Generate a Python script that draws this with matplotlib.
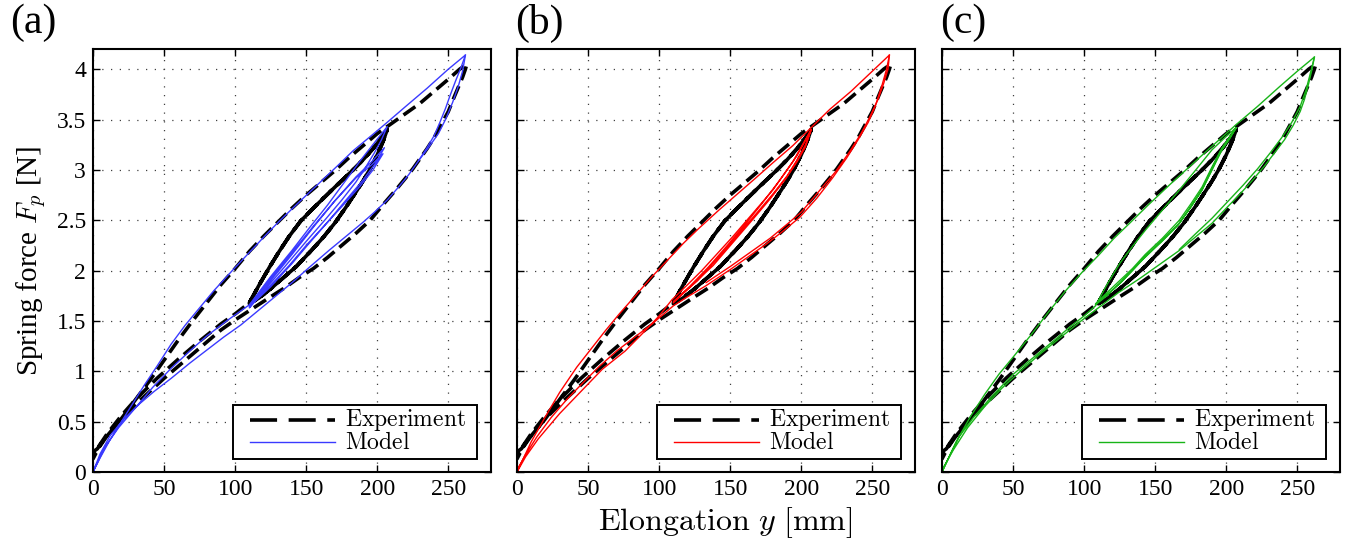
import numpy as np
import matplotlib
matplotlib.use("Agg")
import matplotlib.pyplot as plt
from matplotlib.lines import Line2D
from matplotlib.patches import Rectangle
from matplotlib.ticker import FormatStrFormatter

plt.rcParams['font.family'] = ['Liberation Serif', 'DejaVu Serif']
plt.rcParams['mathtext.fontset'] = 'cm'

# ---- experiment (same in all three panels) ----
exp_load_x = [0, 3, 10, 20, 30, 40, 50, 60, 70, 80, 90, 100, 110, 120, 130, 140, 150,
              160, 170, 180, 190, 200, 210, 220, 230, 240, 250, 258, 263]
exp_load_y = [0.2, 0.23, 0.36, 0.53, 0.72, 0.91, 1.11, 1.31, 1.5, 1.68, 1.86, 2.02, 2.19,
              2.34, 2.48, 2.62, 2.75, 2.87, 2.99, 3.12, 3.24, 3.36, 3.46, 3.56, 3.66, 3.78,
              3.9, 4.0, 4.05]

exp_unload_x = [263, 262, 260, 257, 254, 250, 245, 240, 235, 230, 225, 220, 213, 205, 195,
                185, 175, 165, 155, 145, 135, 125, 112, 100, 90, 80, 70, 60, 50, 40, 30,
                20, 10, 4, 0]
exp_unload_y = [4.05, 4.0, 3.92, 3.82, 3.72, 3.58, 3.45, 3.32, 3.21, 3.11, 3.01, 2.92, 2.8,
                2.67, 2.5, 2.37, 2.25, 2.13, 2.02, 1.93, 1.83, 1.74, 1.62, 1.51, 1.41, 1.29,
                1.17, 1.05, 0.93, 0.8, 0.67, 0.53, 0.36, 0.24, 0.13]

exp_reload_x = [0, 10, 20, 30, 45, 60, 75, 90, 100, 110]
exp_reload_y = [0.17, 0.38, 0.56, 0.72, 0.93, 1.12, 1.3, 1.47, 1.57, 1.68]

exp_rise_x = [110, 117, 124, 131, 138, 146, 155, 163, 171, 177, 183, 190, 197, 203, 207]
exp_rise_y = [1.68, 1.86, 2.03, 2.19, 2.34, 2.49, 2.62, 2.73, 2.84, 2.92, 3.0, 3.1, 3.21,
              3.32, 3.4]

exp_fall_x = [207, 204, 200, 195, 190, 185, 178, 170, 162, 153, 143, 134, 125, 117, 110]
exp_fall_y = [3.4, 3.28, 3.15, 3.01, 2.89, 2.78, 2.63, 2.47, 2.33, 2.19, 2.04, 1.93, 1.82,
              1.73, 1.67]

# ---- model (a), blue ----
a_load_x = [0, 5, 12, 20, 28, 36, 45, 55, 65, 75, 85, 98, 110, 120, 131, 145, 160, 172,
            183, 195, 206, 220, 235, 250, 262]
a_load_y = [0, 0.14, 0.32, 0.5, 0.68, 0.86, 1.05, 1.27, 1.46, 1.63, 1.8, 2.0, 2.18, 2.33,
            2.49, 2.68, 2.88, 3.04, 3.19, 3.33, 3.46, 3.63, 3.81, 4.0, 4.14]
a_unload_x = [262, 259, 255, 251, 248, 244, 240, 235, 229, 222, 215, 207, 198, 190, 178,
              166, 152, 140, 128, 116, 104, 92, 80, 68, 55, 43, 33, 22, 12, 5, 0]
a_unload_y = [4.14, 4.02, 3.88, 3.73, 3.61, 3.47, 3.34, 3.22, 3.09, 2.95, 2.83, 2.7, 2.58,
              2.48, 2.34, 2.2, 2.03, 1.88, 1.74, 1.6, 1.46, 1.34, 1.21, 1.08, 0.93, 0.8,
              0.68, 0.53, 0.36, 0.18, 0]
a_unload2_x = [262, 260, 257, 253, 248, 243, 236, 229]
a_unload2_y = [4.14, 3.98, 3.83, 3.67, 3.5, 3.36, 3.22, 3.09]
a_reload_x = [0, 8, 18, 30, 42, 55, 68, 80, 95, 110]
a_reload_y = [0, 0.24, 0.44, 0.64, 0.84, 1.03, 1.2, 1.35, 1.51, 1.66]
a_loops_x = [110, 125, 140, 152, 165, 177, 188, 198, 207,
             203, 198, 192, 185, 175, 163, 150, 135, 122, 110,
             125, 140, 155, 170, 185, 196, 205,
             199, 190, 178, 165, 152, 140, 125, 110,
             125, 140, 155, 170, 185, 196, 204,
             197, 188, 176, 163, 150, 138, 124, 110]
a_loops_y = [1.66, 1.94, 2.2, 2.42, 2.65, 2.88, 3.09, 3.27, 3.43,
             3.3, 3.17, 3.03, 2.88, 2.7, 2.5, 2.29, 2.04, 1.83, 1.63,
             1.9, 2.16, 2.43, 2.69, 2.93, 3.08, 3.22,
             3.07, 2.9, 2.7, 2.48, 2.27, 2.07, 1.84, 1.64,
             1.92, 2.18, 2.44, 2.69, 2.92, 3.05, 3.16,
             3.0, 2.84, 2.65, 2.45, 2.25, 2.05, 1.84, 1.65]

# ---- model (b), red ----
b_load_x = [0, 5, 10, 20, 30, 42, 52, 62, 72, 82, 95, 105, 117, 128, 142, 155, 168, 180,
            194, 207, 220, 235, 250, 262]
b_load_y = [0, 0.15, 0.3, 0.55, 0.79, 1.04, 1.22, 1.4, 1.57, 1.73, 1.94, 2.09, 2.27, 2.42,
            2.6, 2.76, 2.92, 3.07, 3.24, 3.42, 3.6, 3.78, 3.98, 4.14]
b_unload_x = [262, 260, 257, 252, 247, 240, 232, 222, 211, 199, 187, 176, 166, 150, 133,
              120, 110, 95, 82, 70, 58, 46, 35, 24, 14, 6, 0]
b_unload_y = [4.14, 4.0, 3.85, 3.63, 3.47, 3.3, 3.12, 2.92, 2.72, 2.53, 2.39, 2.27, 2.17,
              2.01, 1.85, 1.74, 1.65, 1.47, 1.33, 1.2, 1.05, 0.88, 0.72, 0.54, 0.35, 0.17,
              0.02]
b_unload2_x = [262, 261, 258, 254, 248, 242, 234, 224, 212, 200, 190, 178, 166, 150, 133]
b_unload2_y = [4.14, 4.0, 3.86, 3.7, 3.52, 3.36, 3.18, 2.98, 2.78, 2.58, 2.46, 2.32, 2.2,
               2.04, 1.88]
b_reload_x = [0, 6, 15, 30, 45, 60, 76, 90, 100, 109]
b_reload_y = [0, 0.15, 0.33, 0.58, 0.8, 1.02, 1.2, 1.4, 1.55, 1.71]
b_loops_x = [109, 120, 130, 141, 152, 166, 180, 194, 207,
             205, 203, 197, 189, 178, 166, 152, 138, 125, 114, 110,
             122, 135, 148, 160, 172, 185, 197, 207,
             203, 198, 190, 180, 168, 155, 141, 127, 116, 110]
b_loops_y = [1.71, 1.86, 2.0, 2.17, 2.34, 2.57, 2.8, 3.08, 3.4,
             3.32, 3.23, 3.08, 2.91, 2.71, 2.51, 2.28, 2.05, 1.88, 1.74, 1.69,
             1.85, 2.04, 2.25, 2.45, 2.66, 2.9, 3.14, 3.4,
             3.25, 3.12, 2.94, 2.76, 2.56, 2.35, 2.12, 1.9, 1.76, 1.68]

# ---- model (c), green ----
c_load_x = [0, 5, 10, 20, 30, 40, 50, 62, 75, 87, 99, 110, 121, 132, 145, 160, 174, 188,
            207, 222, 237, 250, 262]
c_load_y = [0, 0.15, 0.3, 0.55, 0.77, 0.97, 1.14, 1.35, 1.59, 1.8, 1.99, 2.15, 2.32, 2.47,
            2.65, 2.85, 3.03, 3.21, 3.45, 3.63, 3.82, 3.98, 4.12]
c_unload_x = [262, 260, 258, 255, 252, 247, 241, 234, 227, 218, 209, 200, 190, 178, 167,
              153, 139, 124, 110, 96, 82, 68, 55, 42, 30, 18, 8, 0]
c_unload_y = [4.12, 3.98, 3.86, 3.7, 3.58, 3.44, 3.3, 3.17, 3.04, 2.89, 2.75, 2.62, 2.47,
              2.33, 2.2, 2.06, 1.92, 1.78, 1.63, 1.48, 1.32, 1.16, 1.0, 0.83, 0.65, 0.44,
              0.22, 0.02]
c_unload2_x = [262, 259, 256, 252, 246, 239, 231, 222, 212, 200, 190, 178, 167]
c_unload2_y = [4.12, 3.95, 3.79, 3.63, 3.47, 3.32, 3.17, 3.01, 2.85, 2.67, 2.52, 2.36, 2.21]
c_reload_x = [0, 6, 12, 22, 35, 50, 68, 80, 90, 100, 108]
c_reload_y = [0, 0.18, 0.35, 0.54, 0.75, 0.97, 1.18, 1.32, 1.44, 1.55, 1.65]
c_loops_x = [108, 116, 125, 134, 143, 155, 167, 178, 190, 199, 207,
             202, 197, 190, 183, 175, 167, 155, 143, 134, 125, 116, 108,
             116, 125, 134, 143, 155, 167, 175, 183, 190, 197, 202, 207,
             202, 196, 189, 182, 174, 166, 154, 142, 133, 124, 116, 108]
c_loops_y = [1.65, 1.86, 2.07, 2.24, 2.4, 2.6, 2.8, 2.99, 3.2, 3.32, 3.42,
             3.31, 3.2, 3.0, 2.8, 2.63, 2.47, 2.3, 2.14, 2.0, 1.87, 1.76, 1.67,
             1.78, 1.9, 2.02, 2.16, 2.32, 2.5, 2.66, 2.83, 3.03, 3.22, 3.32, 3.42,
             3.3, 3.18, 2.98, 2.78, 2.61, 2.45, 2.28, 2.12, 1.99, 1.86, 1.75, 1.66]

panels = [
    ('(a)', '#3a3aff', [(a_load_x, a_load_y), (a_unload_x, a_unload_y), (a_reload_x, a_reload_y),
                        (a_loops_x, a_loops_y)], (a_unload2_x, a_unload2_y)),
    ('(b)', '#ff0000', [(b_load_x, b_load_y), (b_unload_x, b_unload_y), (b_reload_x, b_reload_y),
                        (b_loops_x, b_loops_y)], (b_unload2_x, b_unload2_y)),
    ('(c)', '#18b418', [(c_load_x, c_load_y), (c_unload_x, c_unload_y), (c_reload_x, c_reload_y),
                        (c_loops_x, c_loops_y)], (c_unload2_x, c_unload2_y)),
]

exp_x = np.concatenate([exp_load_x, exp_unload_x, exp_reload_x,
                        exp_rise_x, exp_fall_x, exp_rise_x, exp_fall_x, exp_rise_x, exp_fall_x])
exp_y = np.concatenate([exp_load_y, exp_unload_y, exp_reload_y,
                        exp_rise_y, exp_fall_y, exp_rise_y, exp_fall_y, exp_rise_y, exp_fall_y])

W, H = 1346, 545
fig = plt.figure(figsize=(W / 100, H / 100), dpi=100)
lefts = [93, 517, 942]
label_x = [10, 515, 940]

for i, (tag, col, segs, extra) in enumerate(panels):
    ax = fig.add_axes([lefts[i] / W, (H - 472) / H, 398 / W, 423 / H])
    ax.plot(exp_x, exp_y, color='k', lw=2.6, dashes=(4, 1.8))
    mx = np.concatenate([s[0] for s in segs])
    my = np.concatenate([s[1] for s in segs])
    ax.plot(mx, my, color=col, lw=1.0)
    ax.plot(extra[0], extra[1], color=col, lw=1.0)

    ax.set_xlim(0, 280)
    ax.set_ylim(0, 4.2)
    ax.set_xticks([0, 50, 100, 150, 200, 250])
    ax.set_yticks(np.arange(0, 4.01, 0.5))
    ax.yaxis.set_major_formatter(FormatStrFormatter('%g'))
    ax.grid(True, color='0.25', linestyle=(0, (1, 6)), lw=0.9)
    ax.tick_params(direction='in', top=True, right=True, length=5, width=1,
                   labelsize=17, pad=5)
    for lab in ax.get_xticklabels() + ax.get_yticklabels():
        lab.set_family('Liberation Serif')
    for s in ax.spines.values():
        s.set_linewidth(1.5)
    if i > 0:
        ax.set_yticklabels([])
    else:
        ax.set_ylabel('Spring force $F_p$ [N]', fontsize=21, labelpad=6)

    # legend box drawn by hand (MATLAB style padding)
    ax.add_patch(Rectangle((0.352, 0.031), 0.613, 0.127, transform=ax.transAxes,
                           facecolor='white', edgecolor='k', lw=1.4, zorder=5))
    ax.add_line(Line2D([0.394, 0.608], [0.122, 0.122], transform=ax.transAxes,
                       color='k', lw=2.6, dashes=(7.5, 3.2), zorder=6))
    ax.add_line(Line2D([0.394, 0.608], [0.071, 0.071], transform=ax.transAxes,
                       color=col, lw=1.0, zorder=6))
    ax.text(0.633, 0.124, r'$\mathrm{Experiment}$', transform=ax.transAxes,
            fontsize=17, ha='left', va='center', zorder=7)
    ax.text(0.633, 0.069, r'$\mathrm{Model}$', transform=ax.transAxes,
            fontsize=17, ha='left', va='center', zorder=7)

    fig.text(label_x[i] / W, 1 - 4 / H, tag, fontsize=30, ha='left', va='top')

fig.text(725 / W, 1 - 523 / H, r'$\mathrm{Elongation}\ y\ \mathrm{[mm]}$',
         fontsize=23, ha='center', va='center')

fig.savefig('out.png', dpi=100)
